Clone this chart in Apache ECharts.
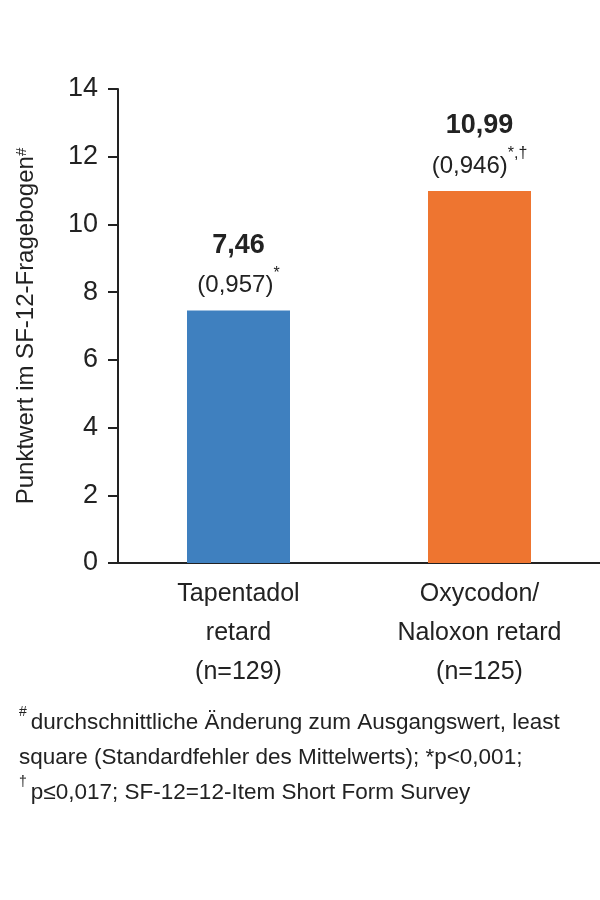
<!DOCTYPE html>
<html><head><meta charset="utf-8">
<script src="https://cdn.jsdelivr.net/npm/echarts@6/dist/echarts.min.js"></script>
<style>html,body{margin:0;padding:0;background:#fff}#c{width:600px;height:900px}</style>
</head><body><div id="c"></div>
<script>
const categories = ['Tapentadol\nretard\n(n=129)', 'Oxycodon/\nNaloxon retard\n(n=125)'];
const values = [7.46, 10.99];
const valueLabels = ['7,46', '10,99'];
const seLabels = ['(0,957)', '(0,946)'];
const seMarks = ['*', '*,†'];
const barColors = ['#3F80BF', '#EE7530'];
const yTicks = [0, 2, 4, 6, 8, 10, 12, 14];

const FONT = '"Liberation Sans", Arial, sans-serif';
const chart = echarts.init(document.getElementById('c'));
chart.setOption({
  animation: false,
  textStyle: { fontFamily: FONT },
  title: {
    left: 14, top: 700,
    text: '{s|#}{t|durchschnittliche Änderung zum Ausgangswert, least}\n{t|square (Standardfehler des Mittelwerts); *p<0,001;}\n{s|†}{t|p≤0,017; SF-12=12-Item Short Form Survey}',
    textStyle: {
      fontWeight: 'normal',
      rich: {
        t: { fontFamily: FONT, fontSize: 22.5, fontWeight: 'normal', color: '#222', lineHeight: 35 },
        s: { fontFamily: FONT, fontSize: 14, fontWeight: 'normal', color: '#222', verticalAlign: 'top', lineHeight: 35, padding: [0, 4, 0, 0] }
      }
    }
  },
  grid: { left: 118, right: 0, top: 89, bottom: 337 },
  xAxis: {
    type: 'category',
    data: categories,
    axisLine: { lineStyle: { color: '#222', width: 2 } },
    axisTick: { show: false },
    axisLabel: { fontFamily: FONT, fontSize: 25, color: '#222', lineHeight: 39, margin: 12, interval: 0 }
  },
  yAxis: {
    type: 'value', min: 0, max: 14, interval: 2,
    name: '{n|Punktwert im SF-12-Fragebogen}{s|#}',
    nameLocation: 'middle', nameGap: 80, nameRotate: 90,
    nameTextStyle: {
      rich: {
        n: { fontFamily: FONT, fontSize: 24, color: '#222' },
        s: { fontFamily: FONT, fontSize: 15, color: '#222', verticalAlign: 'top' }
      }
    },
    axisLine: { show: true, lineStyle: { color: '#222', width: 2 } },
    axisTick: { show: true, length: 10, lineStyle: { color: '#222', width: 2 } },
    axisLabel: { fontFamily: FONT, fontSize: 27, color: '#222', margin: 20,
      formatter: v => yTicks.includes(v) ? String(v) : '' },
    splitLine: { show: false }
  },
  series: [{
    type: 'bar',
    barWidth: 103,
    data: values.map((v, i) => ({
      value: v,
      itemStyle: { color: barColors[i] },
      label: {
        show: true, position: 'top', distance: 5,
        formatter: '{b|' + valueLabels[i] + '}\n{p|' + seLabels[i] + '}{s|' + seMarks[i] + '}',
        rich: {
          b: { fontFamily: FONT, fontSize: 27, fontWeight: 'bold', color: '#222', lineHeight: 40 },
          p: { fontFamily: FONT, fontSize: 24, color: '#222', lineHeight: 40 },
          s: { fontFamily: FONT, fontSize: 16, color: '#222', verticalAlign: 'top', lineHeight: 40 }
        }
      }
    }))
  }]
});
</script></body></html>
